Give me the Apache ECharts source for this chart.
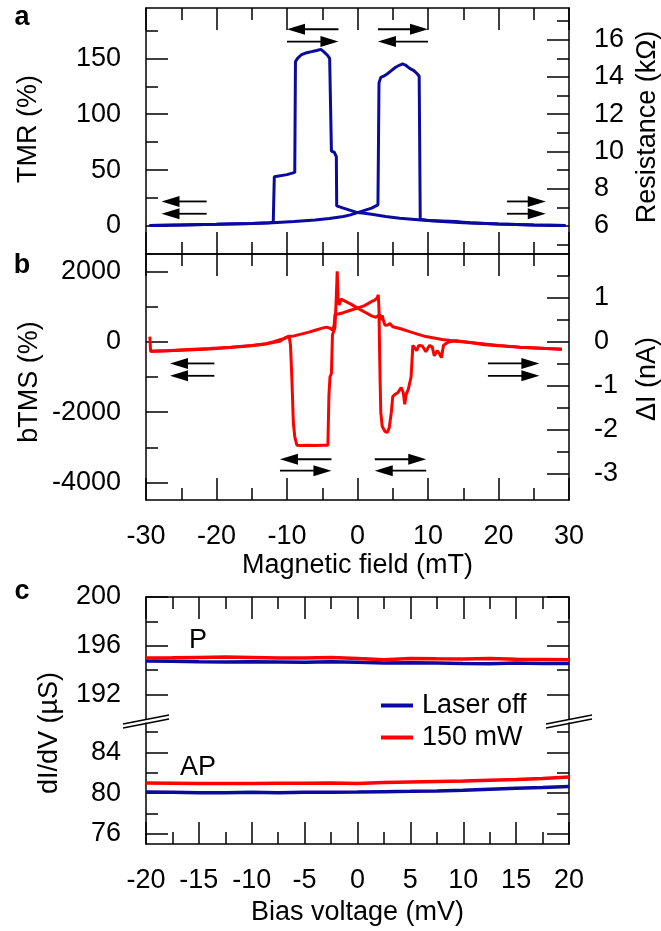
<!DOCTYPE html>
<html><head><meta charset="utf-8">
<script src="https://cdn.jsdelivr.net/npm/echarts@6/dist/echarts.min.js"></script>
<style>html,body{margin:0;padding:0;background:#fff}#c{width:661px;height:931px}</style>
</head><body><div id="c"></div>
<script>
// ---------- Panel a: TMR loops ----------
const tmrUpField = [-29.5,-25,-20,-15,-12,-9,-6,-4,-2,-1,0,1,2,2.9,3.05,3.3,3.7,4.2,4.8,5.4,6.0,6.4,6.8,7.4,8.0,8.5,8.75,8.9,10,12,14,15,16,20,25,29.5];
const tmrUpVal   = [0.5,1,1.5,2.3,3,4,5.5,6.8,8.5,10,12,14,16,19,128,133,134,136,139,142,144,145,144,141,139,136,134,6,5,4.5,4,3.5,3,1.8,1,0.5];
const tmrDownField = [29.5,25,20,15,12,9,6,4,2,1,0,-1,-2,-2.95,-3.0,-3.3,-3.7,-3.85,-3.95,-4.3,-4.8,-5.2,-5.8,-6.5,-7.2,-8.0,-8.5,-8.8,-8.9,-10,-11.8,-11.95,-12.5,-15,-20,-25,-29.5];
const tmrDownVal   = [0.5,1,1.8,3,4,5.5,7,8.5,10.5,11.5,12,14,16,18,62,66,67,66,150,153,156,158,157,156,155,153,150,147,48,46,44,3.5,3,2.3,1.5,1,0.5];

// ---------- Panel b: bTMS loops ----------
const bUpField = [-29.45,-29.35,-27,-24,-21,-18,-15,-13,-12,-11,-10.3,-9.7,-9,-8,-7,-6,-5,-4.4,-3.8,-3.5,-3.3,-3.2,-2.6,-2,-1,0,1,2,2.4,2.8,2.95,3.05,3.15,3.3,3.5,3.9,4.2,4.5,4.8,5.0,5.3,5.7,6.2,6.5,6.7,6.9,7.2,7.6,7.85,8.1,8.4,8.7,9.2,9.7,10.2,10.6,10.9,11.3,11.6,11.9,12.2,12.6,13,14,16,18,20,23,26,29];
const bUpVal   = [150,-270,-250,-220,-190,-150,-100,-50,0,60,100,160,170,220,270,330,390,420,380,330,500,780,800,830,900,960,1030,1150,1180,1250,1340,900,-500,-2000,-2400,-2550,-2580,-2450,-2000,-1550,-1500,-1450,-1300,-1450,-1780,-1500,-1350,-1000,-100,-80,-250,-100,-120,-280,-100,-150,-400,-250,-330,-450,-100,-40,0,30,-20,-80,-110,-150,-180,-210];
const bDownField = [29,26,23,20,17,14.4,12,9.7,8.5,7.4,6,5,4.6,4.3,3.9,3.7,3.5,3.35,3.2,2.6,2.3,2,1,0,-1,-2,-2.3,-2.6,-2.75,-2.88,-3.0,-3.2,-3.4,-3.55,-3.7,-3.9,-4.05,-4.2,-5,-6,-7,-8,-8.6,-8.9,-9.1,-9.3,-9.5,-9.7,-10.3,-11,-12,-13,-15,-18,-21,-24,-27,-29.35];
const bDownVal   = [-210,-180,-150,-100,-40,10,70,150,220,290,380,430,520,480,470,600,750,620,780,700,720,740,850,960,1080,1180,1220,1050,1200,2010,1300,400,350,200,-900,-1000,-1500,-2940,-2940,-2950,-2940,-2950,-2940,-2700,-2300,-1100,-100,160,110,20,-20,-60,-110,-160,-200,-230,-250,-270];

// ---------- Panel c: dI/dV vs bias ----------
const biasV = [-20,-17.5,-15,-12.5,-10,-7.5,-5,-2.5,0,2.5,5,7.5,10,12.5,15,17.5,20];
const pOff  = [194.75,194.73,194.70,194.68,194.70,194.68,194.66,194.70,194.65,194.60,194.62,194.60,194.55,194.52,194.58,194.55,194.55];
const pOn   = [195.00,195.02,195.05,195.08,195.05,195.00,195.00,195.05,194.95,194.85,194.95,194.93,194.92,194.95,194.90,194.88,194.85];
const apOff = [80.12,80.10,80.05,80.05,80.08,80.05,80.08,80.10,80.12,80.15,80.18,80.22,80.28,80.38,80.48,80.55,80.65];
const apOn  = [81.00,80.98,80.95,80.95,80.95,80.97,80.98,81.00,80.95,81.05,81.10,81.15,81.20,81.28,81.35,81.45,81.58];

// ---------- Tick labels ----------
const tmrTicks = [0,50,100,150], tmrMinor = [25,75,125,175];
const resTicks = [6,8,10,12,14,16], resMinor = [5,7,9,11,13,15,17];
const btmsTicks = [-4000,-2000,0,2000], btmsMinor = [-3000,-1000,1000];
const diTicks = [-3,-2,-1,0,1], diMinor = [-2.5,-1.5,-0.5,0.5,1.5];
const cUpTicks = [192,196,200], cUpMinor = [194,198];
const cLoTicks = [76,80,84], cLoMinor = [78,82,86];

const FF = '"Liberation Sans", Arial, sans-serif';
const FS = 27;
const BLUE = '#0a0a9e', RED = '#ff0000';
const zip = (a, b) => a.map((v, i) => [v, b[i]]);
const plain = v => String(v);

function xAx(grid, pos, min, max, interval, showLabel) {
  return {type:'value', gridIndex:grid, position:pos, min:min, max:max, interval:interval,
    axisLine:{show:true, onZero:false, lineStyle:{color:'#000', width:1.5}},
    axisTick:{show:true, inside:true, length:22, lineStyle:{color:'#000', width:1.5}},
    minorTick:{show:true, splitNumber:2, length:12, lineStyle:{color:'#000', width:1.5}},
    axisLabel:{show:showLabel, margin:23, fontSize:FS, fontFamily:FF, color:'#000', formatter:plain},
    splitLine:{show:false}, minorSplitLine:{show:false}};
}
function yAx(grid, pos, min, max, vals, showLabel, len, showLine) {
  return {type:'value', gridIndex:grid, position:pos, min:min, max:max,
    axisLine:{show:showLine, onZero:false, lineStyle:{color:'#000', width:1.5}},
    axisTick:{show:true, inside:true, length:len, customValues:vals, lineStyle:{color:'#000', width:1.5}},
    axisLabel:{show:showLabel, customValues:vals, margin:25, fontSize:FS, fontFamily:FF, color:'#000', formatter:plain},
    splitLine:{show:false}};
}
function ln(name, xi, yi, data, color, w) {
  return {name:name, type:'line', xAxisIndex:xi, yAxisIndex:yi, data:data, showSymbol:false, symbol:'none',
    lineStyle:{color:color, width:w}, itemStyle:{color:color}, animation:false};
}

const chart = echarts.init(document.getElementById('c'));
const option = {
  animation:false,
  grid:[
    {left:146, top:8, width:423, height:246},
    {left:146, top:254, width:423, height:246},
    {left:146, top:597, width:423, height:122},
    {left:146, top:722, width:423, height:122}
  ],
  xAxis:[
    xAx(0,'top',-30,30,10,false),
    xAx(0,'bottom',-30,30,10,false),
    xAx(1,'top',-30,30,10,false),
    xAx(1,'bottom',-30,30,10,true),
    xAx(2,'top',-20,20,5,false),
    xAx(3,'bottom',-20,20,5,true)
  ],
  yAxis:[
    yAx(0,'left',-25,195,tmrTicks,true,22,true),
    yAx(0,'left',-25,195,tmrMinor,false,12,false),
    yAx(0,'right',4.5,17.7,resTicks,true,22,true),
    yAx(0,'right',4.5,17.7,resMinor,false,12,false),
    yAx(1,'left',-4500,2500,btmsTicks,true,22,true),
    yAx(1,'left',-4500,2500,btmsMinor,false,12,false),
    yAx(1,'right',-3.6,2.0,diTicks,true,22,true),
    yAx(1,'right',-3.6,2.0,diMinor,false,12,false),
    yAx(2,'left',190,200,cUpTicks,true,22,true),
    yAx(2,'left',190,200,cUpMinor,false,12,false),
    yAx(2,'right',190,200,cUpTicks,false,22,true),
    yAx(2,'right',190,200,cUpMinor,false,12,false),
    yAx(3,'left',75,87,cLoTicks,true,22,true),
    yAx(3,'left',75,87,cLoMinor,false,12,false),
    yAx(3,'right',75,87,cLoTicks,false,22,true),
    yAx(3,'right',75,87,cLoMinor,false,12,false)
  ],
  legend:{data:['Laser off','150 mW'], left:381, top:692, orient:'vertical', itemGap:5,
    itemWidth:32, itemHeight:4, icon:'rect', padding:0,
    textStyle:{fontSize:FS, fontFamily:FF, color:'#000', padding:[0,0,0,4]}},
  series:[
    ln('TMR up',0,0,zip(tmrUpField,tmrUpVal),BLUE,3),
    ln('TMR down',0,0,zip(tmrDownField,tmrDownVal),BLUE,3),
    ln('bTMS up',2,4,zip(bUpField,bUpVal),RED,3),
    ln('bTMS down',2,4,zip(bDownField,bDownVal),RED,3),
    ln('Laser off',4,8,zip(biasV,pOff),BLUE,3.5),
    ln('150 mW',4,8,zip(biasV,pOn),RED,3.5),
    ln('Laser off',5,12,zip(biasV,apOff),BLUE,3.5),
    ln('150 mW',5,12,zip(biasV,apOn),RED,3.5)
  ]
};
chart.setOption(option);

// ---------- annotations ----------
function px(xi, yi, x, y) { return chart.convertToPixel({xAxisIndex:xi, yAxisIndex:yi}, [x, y]); }
function arrow(xi, yi, xa, xb, y, dir) {
  const p1 = px(xi, yi, xa, y), p2 = px(xi, yi, xb, y);
  const L = 18, H = 5.5, yy = p1[1];
  const left = Math.min(p1[0], p2[0]), right = Math.max(p1[0], p2[0]);
  let shaft, head;
  if (dir === 'left') {
    shaft = {x1:left + L - 1, y1:yy, x2:right, y2:yy};
    head = [[left, yy], [left + L, yy - H], [left + L, yy + H]];
  } else {
    shaft = {x1:left, y1:yy, x2:right - L + 1, y2:yy};
    head = [[right, yy], [right - L, yy - H], [right - L, yy + H]];
  }
  return [
    {type:'line', shape:shaft, style:{stroke:'#000', lineWidth:1.8}, z:10},
    {type:'polygon', shape:{points:head}, style:{fill:'#000'}, z:10}
  ];
}
function txt(s, x, y, opts) {
  opts = opts || {};
  return {type:'text', x:x, y:y, rotation:opts.rot || 0, z:10,
    style:{text:s, font:(opts.bold ? 'bold ' : '') + (opts.size || FS) + 'px ' + FF,
      fill:'#000', textAlign:opts.align || 'center', textVerticalAlign:opts.va || 'middle',
      align:opts.align || 'center', verticalAlign:opts.va || 'middle'}};
}
let g = [];
// panel a arrows (top)
g = g.concat(arrow(0,0,-10,-2.7,176,'left'), arrow(0,0,-10,-2.7,165,'right'));
g = g.concat(arrow(0,0,2.9,10,176,'right'), arrow(0,0,2.9,10,165,'left'));
// panel a arrows (sides)
g = g.concat(arrow(0,0,-27.8,-21.4,22,'left'), arrow(0,0,-27.8,-21.4,11,'left'));
g = g.concat(arrow(0,0,21.2,26.7,22,'right'), arrow(0,0,21.2,26.7,11,'right'));
// panel b arrows (sides)
g = g.concat(arrow(2,4,-26.6,-20.3,-614,'left'), arrow(2,4,-26.6,-20.3,-966,'left'));
g = g.concat(arrow(2,4,18.5,25.8,-614,'right'), arrow(2,4,18.5,25.8,-966,'right'));
// panel b arrows (bottom)
g = g.concat(arrow(2,4,-11,-3.7,-3341,'left'), arrow(2,4,-11,-3.7,-3665,'right'));
g = g.concat(arrow(2,4,2.45,9.75,-3341,'right'), arrow(2,4,2.45,9.75,-3665,'left'));

// axis break marks in panel c
const bl = px(4, 8, -20, 190), br = px(4, 8, 20, 190);
const by = bl[1] + 2.5;
[bl[0], br[0]].forEach(function (cx) {
  [-2, 2].forEach(function (d) {
    g.push({type:'line', shape:{x1:cx - 23, y1:by + 4.5 + d, x2:cx + 23, y2:by - 4.5 + d},
      style:{stroke:'#000', lineWidth:1.5}, z:12});
  });
  g.push({type:'rect', shape:{x:cx - 2, y:by - 1, width:4, height:2}, style:{fill:'#fff'}, z:11});
});

// texts
g.push(txt('a', 22, 18, {bold:true}));
g.push(txt('b', 22, 266, {bold:true}));
g.push(txt('c', 22, 592, {bold:true}));
g.push(txt('TMR (%)', 29, 129, {rot:Math.PI/2}));
g.push(txt('Resistance (kΩ)', 648, 127, {rot:Math.PI/2}));
g.push(txt('bTMS (%)', 30, 382, {rot:Math.PI/2}));
g.push(txt('ΔI (nA)', 648, 379, {rot:Math.PI/2}));
g.push(txt('Magnetic field (mT)', 357.5, 566, {}));
g.push(txt('dI/dV (µS)', 50, 733, {rot:Math.PI/2}));
g.push(txt('Bias voltage (mV)', 357.5, 913, {}));
g.push(txt('P', 198, 641, {}));
g.push(txt('AP', 198, 768, {}));

chart.setOption({graphic:{elements:g}});
</script></body></html>
